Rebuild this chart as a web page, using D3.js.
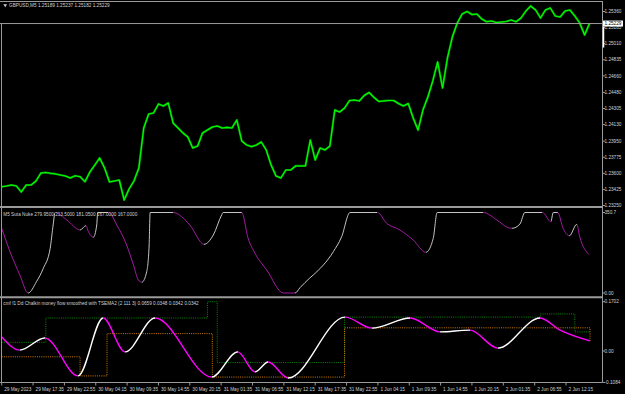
<!DOCTYPE html>
<html>
<head>
<meta charset="utf-8">
<script src="https://d3js.org/d3.v7.min.js"></script>
<style>
  body { margin: 0; background: #000; }
  svg { display: block; }
  text { font-family: "Liberation Sans", Arial, sans-serif; font-size: 4.7px; fill: #d0d0d0; }
</style>
</head>
<body>
<svg id="chart" width="625" height="394"></svg>
<script>
// titles of the three windows
const mainTitle = "GBPUSD,M5  1.25189 1.25237 1.25182 1.25229";
const sutaTitle = "M5 Suta Nuke  279.9500 213.5000 181.0500 167.0000 167.0000";
const cmfTitle = "cmf f1 Dd Chalkin money flow smoothed with TSEMA2 (2 111 3) 0.0659 0.0348 0.0342 0.0342";

// time axis, one label every 64 bars
const timeLabels = ["29 May 2023", "29 May 17:35", "29 May 22:55", "30 May 04:15", "30 May 09:35",
  "30 May 14:55", "30 May 20:15", "31 May 01:35", "31 May 06:55", "31 May 12:15", "31 May 17:35",
  "31 May 22:55", "1 Jun 04:15", "1 Jun 09:35", "1 Jun 14:55", "1 Jun 20:15", "2 Jun 01:35",
  "2 Jun 06:55", "2 Jun 12:15"];

const priceTicks = ["1.25360", "1.25185", "1.25010", "1.24835", "1.24660", "1.24480", "1.24305",
  "1.24130", "1.23950", "1.23775", "1.23600", "1.23425", "1.23250"];
const lastPrice = 1.25229;

// close every 10 bars
const closes = [1.23454, 1.23462, 1.23473, 1.23462, 1.23397, 1.23473, 1.23473, 1.23516, 1.23603, 1.23609,
  1.23600, 1.23593, 1.23582, 1.23571, 1.23549, 1.23574, 1.23563, 1.23509, 1.23614, 1.23690,
  1.23767, 1.23658, 1.23506, 1.23516, 1.23527, 1.23310, 1.23429, 1.23516, 1.23658, 1.24093,
  1.24245, 1.24256, 1.24354, 1.24332, 1.24365, 1.24147, 1.24093, 1.24039, 1.23995, 1.23875,
  1.23897, 1.24039, 1.24071, 1.24104, 1.24115, 1.24093, 1.24100, 1.24093, 1.24180, 1.23952,
  1.23908, 1.23890, 1.23908, 1.23941, 1.23854, 1.23690, 1.23571, 1.23549, 1.23636, 1.23636,
  1.23680, 1.23680, 1.23680, 1.23962, 1.23745, 1.23875, 1.23854, 1.23897, 1.24289, 1.24267,
  1.24310, 1.24392, 1.24397, 1.24387, 1.24446, 1.24479, 1.24425, 1.24381, 1.24387, 1.24392,
  1.24392, 1.24359, 1.24332, 1.24359, 1.24202, 1.24071, 1.24289, 1.24430, 1.24604, 1.24811,
  1.24528, 1.24854, 1.25083, 1.25235, 1.25333, 1.25360, 1.25327, 1.25333, 1.25278, 1.25249,
  1.25257, 1.25240, 1.25246, 1.25251, 1.25268, 1.25249, 1.25289, 1.25365, 1.25420, 1.25376,
  1.25289, 1.25376, 1.25398, 1.25311, 1.25300, 1.25365, 1.25376, 1.25311, 1.25235, 1.25104,
  1.25229];
const closeStep = 10;

// Suta Nuke turning points
const sutaBars = [0, 17, 37, 54, 71, 85, 99, 105, 109, 133, 160, 172, 177, 187, 194, 196, 218, 235, 255, 269,
  279, 286, 296, 301, 303, 350, 384, 413, 432, 449, 452, 490, 503, 517, 541, 575, 599, 609, 629, 636,
  677, 694, 711, 767, 786, 813, 840, 866, 881, 889, 983, 1011, 1034, 1042, 1058, 1068, 1104, 1121, 1126,
  1135, 1146, 1159, 1174, 1180, 1199];
const sutaVals = [281.9, 179.9, 78.4, 0, 49.2, 107.6, 194.8, 296.3, 350.7, 318, 274.5, 293.2, 267.1, 242.7, 296.3,
  350.7, 350.7, 296.3, 209.1, 122, 56.6, 46.6, 92.8, 209.1, 350.7, 350.7, 296.3, 212.2, 252.7, 339.8,
  350.7, 350.7, 238.3, 173, 100.2, 0, 0, 23.1, 65.4, 78.4, 179.9, 245.3, 350.7, 350.7, 303.7, 274.5,
  230.9, 177.3, 238.3, 350.7, 350.7, 318, 284.5, 281.9, 300.6, 350.7, 350.7, 310.7, 350.7, 350.7,
  281.9, 249.7, 299.3, 245.3, 167];
const sutaTicks = [350.7, 0];
const sutaTickLabels = ["350.7", "0.00"];

// Chaikin money flow, smoothed line and the two dotted levels
const cmfBars = [0, 37, 88, 156, 207, 252, 313, 429, 482, 517, 544, 585, 701, 756, 834, 895, 956, 1013, 1099, 1140, 1201];
const cmfVals = [0.048, 0.003, 0.045, -0.086, 0.114, -0.003, 0.114, -0.090, -0.003, -0.072, -0.038, -0.093,
  0.117, 0.079, 0.114, 0.066, 0.072, 0.010, 0.114, 0.072, 0.0348];
const upperBars = [0, 90, 420, 440, 700, 1100, 1170, 1201];
const upperVals = [0.03, 0.114, 0.17, -0.04, 0.117, 0.128, 0.0659, 0.0659];
const lowerBars = [0, 160, 215, 430, 530, 700, 1201];
const lowerVals = [-0.02, -0.086, 0.06, -0.09, -0.09, 0.08, 0.0342];
const cmfTicks = [0.1702, 0, -0.1084];
const cmfTickLabels = ["0.1702", "0.00", "-0.1084"];

const svg = d3.select("#chart");
const frameColor = "#9a9a9a";
const axisX = 602.5;

const x = d3.scaleLinear().domain([0, 64 * 18]).range([1.7, 1.7 + 31.35 * 18]);
const yMain = d3.scaleLinear().domain([1.2325, 1.2536]).range([205.5, 11.5]);
const ySuta = d3.scaleLinear().domain([0, 350.7]).range([293, 212.5]);
const yCmf = d3.scaleLinear().domain([-0.1084, 0.1702]).range([382.4, 301.7]);

svg.append("rect").attr("width", 625).attr("height", 394).attr("fill", "#000");

// colour a line by direction: light when rising, other colour when falling
function directionGradient(id, bars, vals, upColor, downColor) {
  const grad = svg.append("defs").append("linearGradient")
    .attr("id", id)
    .attr("gradientUnits", "userSpaceOnUse")
    .attr("x1", 0).attr("x2", 625).attr("y1", 0).attr("y2", 0);
  let color = vals[1] >= vals[0] ? upColor : downColor;
  for (let i = 0; i < bars.length - 1; i++) {
    if (vals[i + 1] > vals[i]) color = upColor;
    else if (vals[i + 1] < vals[i]) color = downColor;
    const a = x(bars[i]) / 625, b = x(bars[i + 1]) / 625;
    grad.append("stop").attr("offset", a).attr("stop-color", color);
    grad.append("stop").attr("offset", b).attr("stop-color", color);
  }
  return "url(#" + id + ")";
}

// ---- main window
const priceLine = d3.line()
  .x((d, i) => x(i * closeStep))
  .y((d) => yMain(d));
svg.append("path")
  .datum(closes)
  .attr("d", priceLine)
  .attr("fill", "none")
  .attr("stroke", "#008c00")
  .attr("stroke-width", 2.2)
  .attr("stroke-linejoin", "round");
svg.append("path")
  .datum(closes)
  .attr("d", priceLine)
  .attr("fill", "none")
  .attr("stroke", "#00ff00")
  .attr("stroke-width", 1.1)
  .attr("stroke-linejoin", "round");

// bid line
svg.append("line")
  .attr("x1", 0).attr("x2", axisX)
  .attr("y1", yMain(lastPrice)).attr("y2", yMain(lastPrice))
  .attr("stroke", frameColor).attr("stroke-width", 1);

// ---- Suta Nuke window
svg.append("path")
  .datum(sutaBars.map((b, i) => [b, sutaVals[i]]))
  .attr("d", d3.line().x((d) => x(d[0])).y((d) => ySuta(d[1])).curve(d3.curveMonotoneX))
  .attr("fill", "none")
  .attr("stroke", directionGradient("sutaGrad", sutaBars, sutaVals, "#c4c4c4", "#a21aa2"))
  .attr("stroke-width", 1);

// ---- CMF window
const stepLine = d3.line().x((d) => x(d[0])).y((d) => yCmf(d[1])).curve(d3.curveStepAfter);
svg.append("path")
  .datum(upperBars.map((b, i) => [b, upperVals[i]]))
  .attr("d", stepLine)
  .attr("fill", "none")
  .attr("stroke", "#0a8a0a")
  .attr("stroke-width", 1)
  .attr("stroke-dasharray", "1,1.2");
svg.append("path")
  .datum(lowerBars.map((b, i) => [b, lowerVals[i]]))
  .attr("d", stepLine)
  .attr("fill", "none")
  .attr("stroke", "#d07c00")
  .attr("stroke-width", 1)
  .attr("stroke-dasharray", "1,1.2");
svg.append("path")
  .datum(cmfBars.map((b, i) => [b, cmfVals[i]]))
  .attr("d", d3.line().x((d) => x(d[0])).y((d) => yCmf(d[1])).curve(d3.curveMonotoneX))
  .attr("fill", "none")
  .attr("stroke", directionGradient("cmfGrad", cmfBars, cmfVals, "#ffffff", "#ff00ff"))
  .attr("stroke-width", 1.4);

// ---- frames and separators
const frame = svg.append("g").attr("stroke", frameColor).attr("fill", "none");
frame.append("line").attr("x1", 0).attr("x2", axisX).attr("y1", 1.5).attr("y2", 1.5);
frame.append("line").attr("x1", 1.5).attr("x2", 1.5).attr("y1", 24).attr("y2", 382.5);
frame.append("line").attr("x1", axisX).attr("x2", axisX).attr("y1", 1).attr("y2", 382.5);
frame.append("line").attr("x1", 0).attr("x2", axisX).attr("y1", 207).attr("y2", 207).attr("stroke-width", 2);
frame.append("line").attr("x1", 0).attr("x2", axisX).attr("y1", 297.3).attr("y2", 297.3).attr("stroke-width", 2);
frame.append("line").attr("x1", 0).attr("x2", axisX).attr("y1", 382.5).attr("y2", 382.5);

// right-hand scales
function rightLabels(ticks, labels, scale) {
  const g = svg.append("g");
  ticks.forEach((t, i) => {
    g.append("line")
      .attr("x1", axisX).attr("x2", axisX + 2.5)
      .attr("y1", scale(t)).attr("y2", scale(t))
      .attr("stroke", frameColor);
    g.append("text")
      .attr("x", axisX + 2)
      .attr("y", scale(t))
      .attr("dy", "0.35em")
      .text(labels[i]);
  });
}
rightLabels(priceTicks.map(Number), priceTicks, yMain);
rightLabels(sutaTicks, sutaTickLabels, ySuta);
rightLabels(cmfTicks, cmfTickLabels, yCmf);

// last price marker
const bidY = yMain(lastPrice);
svg.append("rect")
  .attr("x", axisX + 0.5).attr("y", bidY - 3)
  .attr("width", 20).attr("height", 6)
  .attr("fill", "#ffffff");
svg.append("text")
  .attr("x", axisX + 2).attr("y", bidY).attr("dy", "0.35em")
  .style("fill", "#000")
  .text(lastPrice.toFixed(5));
svg.append("line")
  .attr("x1", axisX + 1).attr("x2", axisX + 1)
  .attr("y1", bidY + 3).attr("y2", bidY + 24)
  .attr("stroke", "#ffffff").attr("stroke-width", 1.5);

// time axis
const timeAxis = svg.append("g");
timeLabels.forEach((label, i) => {
  const tx = x(i * 64);
  timeAxis.append("line")
    .attr("x1", tx).attr("x2", tx)
    .attr("y1", 382.5).attr("y2", 385.5)
    .attr("stroke", frameColor);
  timeAxis.append("text")
    .attr("x", tx + 2.5)
    .attr("y", 389)
    .attr("dy", "0.35em")
    .text(label);
});

// window titles
svg.append("path")
  .attr("d", d3.symbol(d3.symbolTriangle, 6)())
  .attr("transform", "translate(5.2,5.2) rotate(180)")
  .attr("fill", "#d0d0d0");
svg.append("text").attr("x", 9).attr("y", 5.3).attr("dy", "0.35em").text(mainTitle);
svg.append("text").attr("x", 3.3).attr("y", 214).attr("dy", "0.35em").text(sutaTitle);
svg.append("text").attr("x", 3.3).attr("y", 303.8).attr("dy", "0.35em").text(cmfTitle);
</script>
</body>
</html>
